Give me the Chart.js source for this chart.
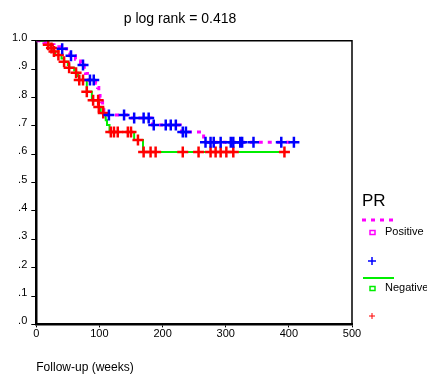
<!DOCTYPE html>
<html>
<head>
<meta charset="utf-8">
<script src="https://cdn.jsdelivr.net/npm/chart.js@4"></script>
<style>
html,body{margin:0;padding:0;background:#fff;}
</style>
</head>
<body>
<canvas id="km" width="427" height="375"></canvas>
<script>
// PR positive: step curve (time in weeks, cumulative survival)
const posTime = [0, 12, 18, 28, 38, 48, 53, 62, 66, 70, 73, 76, 78, 81, 83, 94, 97, 99, 101, 103, 105, 107, 108, 150, 182, 184, 228, 230, 265, 408];
const posSurv = [1.0, 0.993, 0.986, 0.979, 0.972, 0.958, 0.947, 0.935, 0.929, 0.922, 0.915, 0.9, 0.885, 0.87, 0.862, 0.85, 0.835, 0.82, 0.8, 0.785, 0.765, 0.75, 0.738, 0.728, 0.715, 0.703, 0.69, 0.678, 0.642, 0.642];
// PR positive censored
const posCensTime = [41, 55, 74, 85, 91, 115, 139, 155, 170, 178, 186, 205, 213, 221, 232, 237, 268, 276, 281, 292, 308, 312, 323, 326, 344, 388, 408];
const posCensSurv = [0.972, 0.947, 0.915, 0.862, 0.862, 0.738, 0.738, 0.728, 0.728, 0.728, 0.703, 0.703, 0.703, 0.703, 0.678, 0.678, 0.642, 0.642, 0.642, 0.642, 0.642, 0.642, 0.642, 0.642, 0.642, 0.642, 0.642];

// PR negative
const negTime = [0, 14, 19, 23, 27, 30, 40, 44, 50, 52, 60, 63, 66, 68, 80, 88, 99, 102, 110, 112, 116, 155, 169, 393];
const negSurv = [1.0, 0.993, 0.986, 0.975, 0.962, 0.95, 0.938, 0.926, 0.915, 0.905, 0.895, 0.887, 0.875, 0.862, 0.82, 0.79, 0.767, 0.745, 0.72, 0.703, 0.678, 0.65, 0.608, 0.608];
const negCensTime = [19, 24, 28, 35, 44, 52, 63, 68, 74, 80, 90, 98, 99, 106, 118, 123, 129, 145, 150, 161, 170, 181, 189, 232, 257, 276, 284, 292, 301, 312, 393];
const negCensSurv = [0.986, 0.975, 0.962, 0.95, 0.926, 0.905, 0.887, 0.862, 0.862, 0.82, 0.79, 0.79, 0.767, 0.745, 0.678, 0.678, 0.678, 0.678, 0.678, 0.65, 0.608, 0.608, 0.608, 0.608, 0.608, 0.608, 0.608, 0.608, 0.608, 0.608, 0.608];

const xTicks = [0, 100, 200, 300, 400, 500];

function pts(xs, ys) {
  return xs.map((x, i) => ({x: x, y: ys[i]}));
}

const FONT = "'Liberation Sans', Arial, sans-serif";

// frame on top/right + the SPSS style legend
const extras = {
  id: 'extras',
  afterDraw(chart) {
    const c = chart.ctx;
    const a = chart.chartArea;
    c.save();
    c.strokeStyle = '#000';
    c.lineWidth = 1.5;
    c.beginPath();
    c.moveTo(a.left, a.top);
    c.lineTo(a.right, a.top);
    c.lineTo(a.right, a.bottom);
    c.stroke();

    c.fillStyle = '#000';
    c.textBaseline = 'middle';
    c.textAlign = 'left';
    c.font = '17px ' + FONT;
    c.fillText('PR', 362, 201);

    // positive
    c.strokeStyle = '#ff00ff';
    c.lineWidth = 3;
    c.setLineDash([4, 5]);
    c.beginPath(); c.moveTo(362, 220); c.lineTo(394, 220); c.stroke();
    c.setLineDash([]);
    c.lineWidth = 1.5;
    c.strokeRect(370, 230.5, 5, 4);
    c.font = '11px ' + FONT;
    c.fillText('Positive', 385, 232);
    c.strokeStyle = '#0000ff';
    c.beginPath(); c.moveTo(368, 261); c.lineTo(376, 261); c.moveTo(372, 257); c.lineTo(372, 265); c.stroke();

    // negative
    c.strokeStyle = '#00ee00';
    c.lineWidth = 2;
    c.beginPath(); c.moveTo(363, 278); c.lineTo(394, 278); c.stroke();
    c.lineWidth = 1.5;
    c.strokeRect(370, 286.5, 5, 4);
    c.fillText('Negative', 385, 288);
    c.strokeStyle = '#ff0000';
    c.lineWidth = 1;
    c.beginPath(); c.moveTo(369, 316); c.lineTo(375, 316); c.moveTo(372, 313); c.lineTo(372, 319); c.stroke();
    c.restore();
  }
};

new Chart(document.getElementById('km'), {
  type: 'line',
  data: {
    datasets: [
      {
        label: 'Positive',
        data: pts(posTime, posSurv),
        stepped: 'before',
        borderColor: '#ff00ff',
        borderWidth: 3,
        borderDash: [4, 5],
        pointRadius: 0,
        fill: false,
        order: 3
      },
      {
        label: 'Negative',
        data: pts(negTime, negSurv),
        stepped: 'before',
        borderColor: '#00ee00',
        borderWidth: 2,
        pointRadius: 0,
        fill: false,
        order: 4
      },
      {
        label: 'Positive censored',
        data: pts(posCensTime, posCensSurv),
        showLine: false,
        pointStyle: 'cross',
        pointRadius: 5.5,
        pointBorderWidth: 2.5,
        borderColor: '#0000ff',
        order: 1
      },
      {
        label: 'Negative censored',
        data: pts(negCensTime, negCensSurv),
        showLine: false,
        pointStyle: 'cross',
        pointRadius: 5.5,
        pointBorderWidth: 2.5,
        borderColor: '#ff0000',
        order: 2
      }
    ]
  },
  options: {
    responsive: false,
    animation: false,
    devicePixelRatio: 1,
    layout: {padding: {top: 2, right: 75, bottom: 0, left: 8}},
    plugins: {
      legend: {display: false},
      tooltip: {enabled: false},
      title: {
        display: true,
        text: 'p log rank = 0.418',
        color: '#000',
        font: {family: FONT, size: 14, weight: 'normal'},
        padding: {top: 9, bottom: 13}
      }
    },
    scales: {
      x: {
        type: 'linear',
        min: 0,
        max: 500,
        afterBuildTicks: (s) => { s.ticks = xTicks.map(v => ({value: v})); },
        ticks: {color: '#000', font: {family: FONT, size: 11}, padding: 0, maxRotation: 0},
        grid: {drawOnChartArea: false, tickLength: 3, color: '#000'},
        border: {color: '#000', width: 2.5},
        title: {
          display: true,
          text: 'Follow-up (weeks)',
          align: 'start',
          color: '#000',
          font: {family: FONT, size: 12},
          padding: {top: 20, bottom: 0}
        }
      },
      y: {
        min: 0,
        max: 1,
        ticks: {
          stepSize: 0.1,
          color: '#000',
          font: {family: FONT, size: 11},
          padding: 4,
          labelOffset: -3,
          callback: (v) => v >= 1 ? '1.0' : '.' + Math.round(v * 10)
        },
        grid: {drawOnChartArea: false, tickLength: 5, color: '#000'},
        border: {color: '#000', width: 2.5}
      }
    }
  },
  plugins: [extras]
});
</script>
</body>
</html>
